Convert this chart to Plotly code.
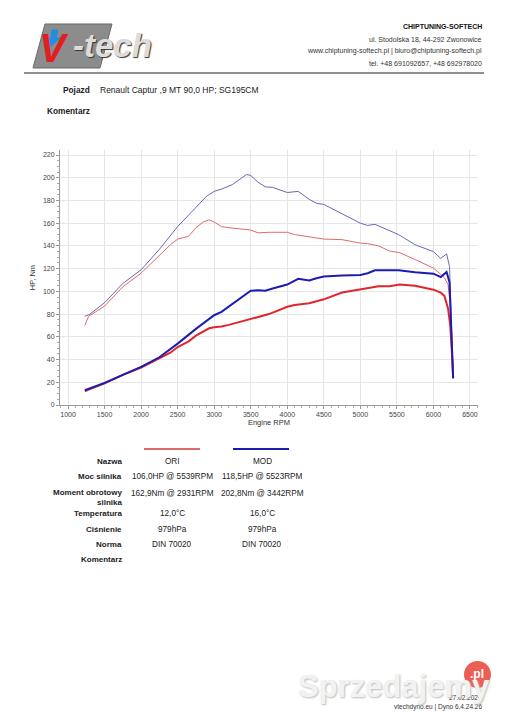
import plotly.graph_objects as go

# dyno data read from the sheet
rpm_ori = [1230, 1280, 1500, 1750, 2000, 2250, 2400, 2500, 2650, 2750, 2850, 2931, 3000,
           3100, 3200, 3500, 3600, 3750, 4000, 4100, 4300, 4500, 4750, 5000, 5100, 5250,
           5400, 5539, 5750, 6000, 6100, 6150, 6200, 6230, 6250, 6270]
ori_torque = [70, 78, 87, 104, 116, 132, 141, 146, 148.5, 156, 161, 162.9, 161,
              157, 156, 154, 151.5, 152, 152, 150, 148, 146, 145.5, 142.5, 142, 140,
              135.5, 134, 128, 120.5, 115, 112, 106, 88, 62, 23.5]
ori_power = [12, 13.5, 19, 26.5, 33, 41, 46, 51, 56, 61, 65, 67.5, 68.5,
             69, 70.5, 75.5, 77, 80, 86.5, 88, 89.5, 93, 99, 102, 103, 104.5,
             104.5, 106.0, 105, 101.5, 99, 96, 85, 70, 50, 23.5]

rpm_mod = [1230, 1300, 1500, 1750, 2000, 2250, 2500, 2750, 2900, 3000, 3100, 3250, 3350,
           3442, 3500, 3600, 3700, 3800, 4000, 4150, 4300, 4400, 4500, 4750, 5000, 5100,
           5200, 5523, 5750, 6000, 6100, 6180, 6220, 6270]
mod_torque = [78, 80, 90, 107, 119, 137, 157, 174, 184, 188, 190, 194, 199,
              202.8, 202, 196, 192, 191.5, 187, 188, 181, 177.5, 176.5, 168, 160, 158,
              159, 150, 141, 135, 129, 133, 122, 23.5]
mod_power = [13, 14.5, 19.5, 26.5, 33.5, 42, 54, 67, 74, 79, 82, 89, 94,
             98, 100.5, 101, 100.5, 102.5, 106, 111, 109.5, 111.5, 113, 114, 114.5, 116,
             118.5, 118.5, 116.8, 115.6, 112.6, 117, 108, 23.5]

row_labels = ["Nazwa", "Moc silnika", "Moment obrotowy<br>silnika", "Temperatura",
              "Ciśnienie", "Norma", "Komentarz"]
ori_values = ["ORI", "106,0HP @ 5539RPM", "162,9Nm @ 2931RPM", "12,0°C", "979hPa", "DIN 70020", ""]
mod_values = ["MOD", "118,5HP @ 5523RPM", "202,8Nm @ 3442RPM", "16,0°C", "979hPa", "DIN 70020", ""]

header_lines = ["<b>CHIPTUNING-SOFTECH</b>",
                "ul. Stodolska 18, 44-292 Zwonowice",
                "www.chiptuning-softech.pl | biuro@chiptuning-softech.pl",
                "tel. +48 691092657, +48 692978020"]

FONT = "Liberation Sans, Arial, sans-serif"
ORI_THIN, ORI_THICK = "#dd6b6b", "#e0262b"
MOD_THIN, MOD_THICK = "#6868b4", "#1c1cb0"

# the page body adds an 8px margin, so work in screen pixels and shift back
OFF = 8
W, H = 500, 712
# plot area in screen pixels
L, R, T, B = 60, 478, 150, 405


def px(x, y):
    """screen pixel -> paper coords"""
    return (x - L) / (R - L), (B - y) / (B - T)


def note(fig, x, y, text, size=7.5, anchor="left", color="#222", bold=False, **kw):
    xp, yp = px(x, y)
    if bold:
        text = f"<b>{text}</b>"
    fig.add_annotation(x=xp, y=yp, xref="paper", yref="paper", text=text,
                       showarrow=False, xanchor=anchor, yanchor="middle",
                       font=dict(family=FONT, size=size, color=color), **kw)


def hline(fig, x0, x1, y, color, width):
    a, b = px(x0, y)
    c, _ = px(x1, y)
    fig.add_shape(type="line", xref="paper", yref="paper", x0=a, x1=c, y0=b, y1=b,
                  line=dict(color=color, width=width))


def poly(fig, pts, fill, line_color=None):
    pp = [px(x, y) for x, y in pts]
    path = "M " + " L ".join("%f %f" % q for q in pp) + " Z"
    fig.add_shape(type="path", xref="paper", yref="paper", path=path, fillcolor=fill,
                  line=dict(color=line_color or fill, width=1), layer="above")


fig = go.Figure()
fig.add_trace(go.Scatter(x=rpm_mod, y=mod_torque, mode="lines", line=dict(color=MOD_THIN, width=1)))
fig.add_trace(go.Scatter(x=rpm_ori, y=ori_torque, mode="lines", line=dict(color=ORI_THIN, width=1)))
fig.add_trace(go.Scatter(x=rpm_ori, y=ori_power, mode="lines", line=dict(color=ORI_THICK, width=2)))
fig.add_trace(go.Scatter(x=rpm_mod, y=mod_power, mode="lines", line=dict(color=MOD_THICK, width=2)))

fig.update_layout(
    width=W, height=H,
    margin=dict(l=L - OFF, r=W - (R - OFF), t=T - OFF, b=H - (B - OFF)),
    paper_bgcolor="white", plot_bgcolor="white",
    showlegend=False,
    font=dict(family=FONT),
)
fig.update_xaxes(
    range=[890, 6610], tickvals=list(range(1000, 7000, 500)),
    tickfont=dict(size=7, color="#444"), showgrid=True, gridcolor="#e6e6e6",
    showline=True, linecolor="#999", linewidth=1, ticks="outside", ticklen=3, tickcolor="#999",
    minor=dict(dtick=100, ticks="outside", ticklen=2, tickcolor="#aaa", showgrid=False),
    title=dict(text="Engine RPM", font=dict(size=7.5, color="#333"), standoff=2),
    zeroline=False,
)
fig.update_yaxes(
    range=[0, 224.4], tickvals=list(range(0, 240, 20)),
    tickfont=dict(size=7, color="#444"), showgrid=True, gridcolor="#e6e6e6",
    showline=True, linecolor="#999", linewidth=1, ticks="outside", ticklen=3, tickcolor="#999",
    minor=dict(dtick=5, ticks="outside", ticklen=2, tickcolor="#aaa", showgrid=False),
    title=dict(text="HP, Nm", font=dict(size=7.5, color="#333"), standoff=6),
    zeroline=False,
)

# logo
poly(fig, [(45, 24), (112, 24), (100, 68), (33, 68)], "#8c8c8c", "#6a6a6a")
note(fig, 54, 48, "<i>V</i>", size=40, anchor="center", color="#e02020", bold=True)
poly(fig, [(52, 30), (58, 30), (56, 38), (60, 38), (50, 47), (47, 38), (51, 38)], "#1e8fe0")
note(fig, 112, 46, "<i>-tech</i>", size=33, anchor="center", color="#dcdcdc", bold=True,
     font_shadow="1px 1px 1px #333")
hline(fig, 24, 484, 73, "#222", 1.2)

# header text
for i, line in enumerate(header_lines):
    note(fig, 484, 27 + i * 12, line, size=7, anchor="right",
         color="#111" if i == 0 else "#333")

note(fig, 92, 90, "Pojazd", size=8.3, anchor="right", bold=True)
note(fig, 98, 90, "Renault Captur ,9 MT 90,0 HP; SG195CM", size=8.5)
note(fig, 92, 111, "Komentarz", size=8.3, anchor="right", bold=True)

# comparison table
hline(fig, 144, 200, 449, ORI_THIN, 2)
hline(fig, 233, 289, 449, MOD_THICK, 2)
row_y = [461, 477, 497, 513, 529, 544, 559]
for lab, a, b, y in zip(row_labels, ori_values, mod_values, row_y):
    note(fig, 124, y, lab, size=8, anchor="right", bold=True, align="right")
    ya = 493 if "<br>" in lab else y
    note(fig, 172, ya, a, size=8.2, anchor="center")
    note(fig, 262, ya, b, size=8.2, anchor="center")

# footer
note(fig, 484, 697, "27.02.2024", size=6.5, anchor="right", color="#333")
note(fig, 484, 707, "vtechdyno.eu | Dyno 6.4.24.26", size=6.5, anchor="right", color="#333")

# watermark
note(fig, 394, 686, "Sprzedajemy", size=31, anchor="center", color="#f2f2f2", bold=True,
     font_shadow="1px 1px 2px #bbb")
c0, c1 = px(464, 661), px(491, 688)
fig.add_shape(type="circle", xref="paper", yref="paper", x0=c0[0], y0=c0[1], x1=c1[0], y1=c1[1],
              fillcolor="#e8433a", line=dict(width=0), opacity=0.85)
note(fig, 477, 674, ".pl", size=12, anchor="center", color="white", bold=True)

fig.write_html("out.html")
